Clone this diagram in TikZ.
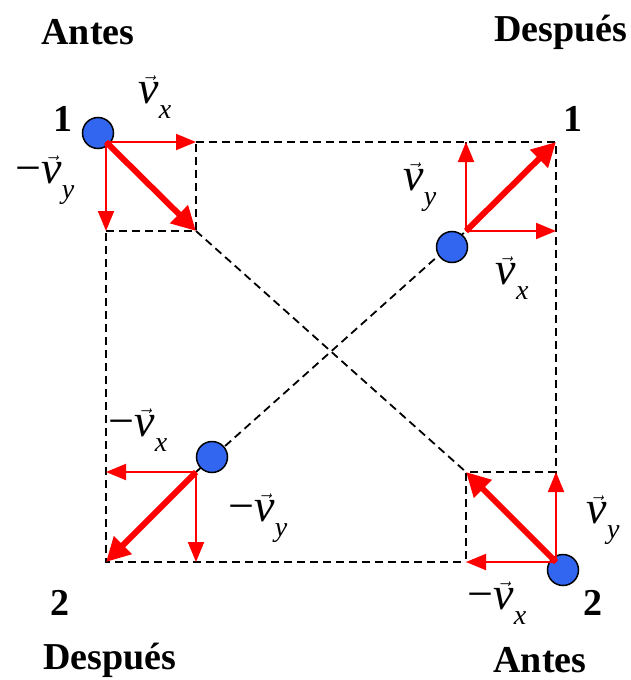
\documentclass[tikz,border=0pt]{standalone}
\usepackage{amsmath}
\usepackage{fontspec}
\setmainfont{Liberation Serif}
\usetikzlibrary{arrows.meta}
\definecolor{ballblue}{RGB}{51,102,240}
\newcommand\vlab[2]{#1$\vec{\text{\itshape v}}$\raisebox{-0.32em}{\fontsize{28}{28}\selectfont\itshape #2}}
\begin{document}
\begin{tikzpicture}[x=1pt,y=-1pt,
  dline/.style={black, line width=1.8pt, dash pattern=on 8pt off 5pt},
  thinv/.style={red, line width=2pt, -{Triangle[length=20pt,width=16pt]}},
  thickv/.style={red, line width=6pt, -{Triangle[length=24pt,width=24pt]}},
  ball/.style={circle, draw=black, line width=1.5pt, fill=ballblue, minimum size=31pt, inner sep=0pt},
  big/.style={font=\fontsize{38}{44}\selectfont\bfseries, inner sep=0pt},
  vl/.style={font=\fontsize{46}{50}\selectfont, inner sep=0pt}]
\useasboundingbox (0,0) rectangle (631,680);
% grid points
\coordinate (A) at (106,142); \coordinate (B) at (196,142);
\coordinate (C) at (106,231); \coordinate (D) at (196,231);
\coordinate (E) at (466,142); \coordinate (F) at (556,142);
\coordinate (G) at (466,231); \coordinate (H) at (556,231);
\coordinate (I) at (106,472); \coordinate (J) at (196,472);
\coordinate (K) at (106,562); \coordinate (L) at (196,562);
\coordinate (M) at (466,472); \coordinate (N) at (556,472);
\coordinate (O) at (466,562); \coordinate (P) at (556,562);
% dashed lines
\draw[dline] (A) -- (K) -- (O);
\draw[dline] (B) -- (F) -- (P);
\draw[dline] (C) -- (D) -- (B);
\draw[dline] (E) -- (G);
\draw[dline] (J) -- (L);
\draw[dline] (N) -- (M) -- (O);
\draw[dline] (D) -- (M);
\draw[dline] (J) -- (G);
% balls
\node[ball] (b1) at (98,133) {};
\node[ball] (b2) at (452,247) {};
\node[ball] (b3) at (212,457) {};
\node[ball] (b4) at (563,570) {};
% arrows top-left
\draw[thinv] (A) -- (B);
\draw[thinv] (A) -- (C);
\draw[thickv] (A) -- (D);
% top-right
\draw[thinv] (G) -- (E);
\draw[thinv] (G) -- (H);
\draw[thickv] (G) -- (F);
% bottom-left
\draw[thinv] (J) -- (I);
\draw[thinv] (J) -- (L);
\draw[thickv] (J) -- (K);
% bottom-right
\draw[thinv] (P) -- (N);
\draw[thinv] (P) -- (O);
\draw[thickv] (P) -- (M);
% titles
\node[big] (t1) at (88,32) {Antes};
\node[big] (t2) at (561,32) {Después};
\node[big] (t3) at (110,660) {Después};
\node[big] (t4) at (540,660) {Antes};
\node[big] (n1) at (63,119) {1};
\node[big] (n2) at (573,119) {1};
\node[big] (n3) at (60,603) {2};
\node[big] (n4) at (593,603) {2};
% vector labels
\node[vl] (l1) at (155,97) {\vlab{}{x}};
\node[vl] (l2) at (45,180) {\vlab{−}{y}};
\node[vl] (l3) at (420,187) {\vlab{}{y}};
\node[vl] (l4) at (512,278) {\vlab{}{x}};
\node[vl] (l5) at (138,430) {\vlab{−}{x}};
\node[vl] (l6) at (258,518) {\vlab{−}{y}};
\node[vl] (l7) at (603,520) {\vlab{}{y}};
\node[vl] (l8) at (497,603) {\vlab{−}{x}};
\end{tikzpicture}
\end{document}
